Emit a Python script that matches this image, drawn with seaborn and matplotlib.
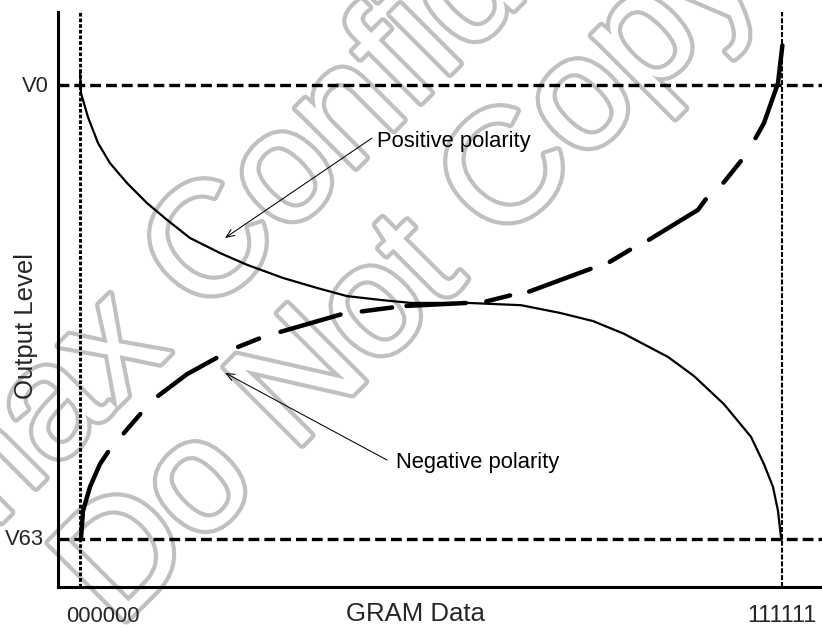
import matplotlib
matplotlib.use("Agg")
import matplotlib.pyplot as plt
import matplotlib.patheffects as pe
import pandas as pd
import seaborn as sns

# GRAM code (0..63) against output level (V63 = 0 %, V0 = 100 %)
pos_code = [0, 0.09, 0.72, 1.62, 2.69, 4.22, 6.01, 7.81, 9.87, 12.56, 14.99, 18.22,
            21.27, 23.96, 27.19, 29.70, 34.82, 39.58, 43.08, 46.04, 48.82, 52.77,
            55.10, 57.79, 60.22, 61.38, 62.19, 62.64, 62.91, 63]
pos_level = [103.3, 98.2, 92.9, 87.2, 82.8, 78.4, 74.0, 70.3, 66.3, 63.0, 60.4, 57.5,
             55.3, 53.5, 52.6, 52.0, 52.0, 51.5, 49.8, 48.0, 45.2, 40.1,
             35.9, 29.7, 22.5, 16.5, 11.5, 6.2, 0.4, 0]

neg_code = [0.09, 0.27, 0.90, 1.79, 2.69, 3.86, 5.65, 7.00, 9.60, 12.56, 14.18, 16.42,
            17.95, 23.60, 28.99, 34.73, 36.26, 38.68, 40.20, 46.04, 47.38, 49.63,
            51.06, 55.46, 56.45, 57.79, 59.59, 60.67, 61.38, 62.64, 63.09]
neg_level = [0, 6.2, 11.5, 16.5, 19.8, 23.1, 28.2, 31.5, 36.3, 40.3, 42.3, 44.5,
             45.6, 49.6, 51.3, 52.0, 52.2, 53.7, 54.4, 59.7, 60.8, 64.1,
             65.9, 72.5, 75.8, 78.6, 84.1, 88.5, 91.6, 100.4, 109.9]

code_ends = [0, 63]            # 000000 and 111111
level_refs = [100, 0]          # V0 and V63
level_names = ["V0", "V63"]
code_names = ["000000", "111111"]

pos_df = pd.DataFrame({"code": pos_code, "level": pos_level})
neg_df = pd.DataFrame({"code": neg_code, "level": neg_level})

sns.set_theme(style="white")
plt.rcParams["font.family"] = ["Liberation Sans", "DejaVu Sans"]

W, H = 822, 628
fig = plt.figure(figsize=(W / 100, H / 100), dpi=100)


def fx(px):
    return px / W


def fy(py):
    return 1 - py / H


ax = fig.add_axes([fx(58), fy(587), fx(W - 58), (587 - 12) / H])
ax.patch.set_visible(False)
ax.set_xlim(-1.974, 66.59)
ax.set_ylim(-10.57, 116.08)
ax.set_xticks([])
ax.set_yticks([])
for side in ("top", "right"):
    ax.spines[side].set_visible(False)
for side in ("left", "bottom"):
    ax.spines[side].set_linewidth(2.2)
    ax.spines[side].set_color("black")

# background watermark
wm = dict(rotation=45, rotation_mode="anchor", ha="center", va="center",
          fontsize=115, color="white", zorder=-5,
          path_effects=[pe.withStroke(linewidth=6, foreground="#c0c0c0")])
fig.text(fx(297), fy(168), "Himax Confidential", **wm)
fig.text(fx(411), fy(277), "Do Not Copy", **wm)

# reference levels and end codes
for lv in level_refs:
    ax.axhline(lv, color="black", lw=2.4, linestyle=(0, (3.25, 1.5)), zorder=2)
ax.axvline(code_ends[0], color="black", lw=2.2, linestyle=(0, (1.2, 0.65)), zorder=2,
           clip_on=False)
ax.axvline(code_ends[1], color="black", lw=1.5, linestyle=(0, (2.4, 0.9)), zorder=2,
           clip_on=False)

# positive polarity: thin solid curve
sns.lineplot(data=pos_df, x="code", y="level", ax=ax, color="black", lw=1.6,
             estimator=None, sort=False, errorbar=None, zorder=3)

# negative polarity: heavy irregular dashes
neg_lw = 3.2
lw_px = neg_lw / 0.72
seq_px = [97, 20, 30, 21, 74, 20, 27, 18, 67, 17, 35, 10, 64, 16, 29, 15,
          70, 16, 28, 17, 75, 20, 32, 23, 102, 40]
dash_seq = []
for i, v in enumerate(seq_px):
    v = v - lw_px if i % 2 == 0 else v + lw_px
    dash_seq.append(max(v, 0.1) / lw_px)
sns.lineplot(data=neg_df, x="code", y="level", ax=ax, color="black", lw=neg_lw,
             estimator=None, sort=False, errorbar=None, zorder=4,
             linestyle=(0, tuple(dash_seq)), dash_capstyle="round")

# annotations
arrow = dict(arrowstyle="->,head_length=0.6,head_width=0.25", lw=0.75, color="black",
             shrinkA=0, shrinkB=0, mutation_scale=10)
ax.annotate("", xy=(13.01, 66.3), xytext=(26.2, 88.3), arrowprops=arrow, zorder=5)
ax.annotate("", xy=(13.01, 36.6), xytext=(27.55, 17.4), arrowprops=arrow, zorder=5)
ax.text(26.65, 86.45, "Positive polarity", fontsize=15.8, ha="left", va="baseline",
        color="black", zorder=6)
ax.text(28.36, 15.75, "Negative polarity", fontsize=15.8, ha="left", va="baseline",
        color="black", zorder=6)

# level and code labels
fig.text(fx(49), fy(92), level_names[0], fontsize=15.8, ha="right", va="baseline")
fig.text(fx(44), fy(545), level_names[1], fontsize=15.8, ha="right", va="baseline")
fig.text(fx(66), fy(621.5), code_names[0], fontsize=15.8, ha="left", va="baseline")
fig.text(fx(747), fy(622), code_names[1], fontsize=16.8, ha="left", va="baseline")
fig.text(fx(415), fy(621), "GRAM Data", fontsize=18.5, ha="center", va="baseline")
fig.text(fx(33), fy(326), "Output Level", fontsize=18.5, rotation=90,
         rotation_mode="anchor", ha="center", va="baseline")

fig.savefig("out.png", dpi=100)
